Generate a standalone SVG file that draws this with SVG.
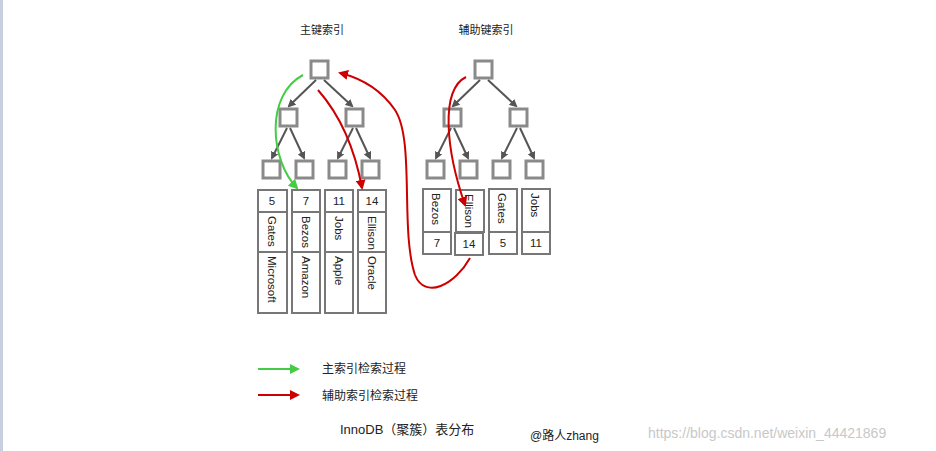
<svg xmlns="http://www.w3.org/2000/svg" width="936" height="451" viewBox="0 0 936 451">
<style>
text{font-family:"Liberation Sans","Noto Sans CJK SC",sans-serif;fill:#222}
.n rect{fill:#fff;stroke:#8a8a8a;stroke-width:3}
.c rect{fill:#fff;stroke:#777;stroke-width:2}
.t{stroke:#555;stroke-width:2;fill:none;marker-end:url(#ag)}
.c text{font-size:11.5px}
</style>
<defs>
<marker id="ag" markerWidth="8" markerHeight="8" refX="6" refY="4" orient="auto" markerUnits="userSpaceOnUse"><path d="M0,0L8,4L0,8z" fill="#555"/></marker>
<marker id="agr" markerWidth="10" markerHeight="10" refX="8" refY="5" orient="auto" markerUnits="userSpaceOnUse"><path d="M0,0L10,5L0,10z" fill="#c00"/></marker>
<marker id="agg" markerWidth="10" markerHeight="10" refX="8" refY="5" orient="auto" markerUnits="userSpaceOnUse"><path d="M0,0L10,5L0,10z" fill="#4c4"/></marker>
</defs>
<rect width="936" height="451" fill="#fff"/>
<rect x="0" y="0" width="3" height="451" fill="#c8d0e0"/>
<text x="322" y="34" font-size="11" text-anchor="middle">主键索引</text>
<text x="486" y="34" font-size="11" text-anchor="middle">辅助键索引</text>
<g id="nodes-primary" class="n">
<rect x="311" y="61" width="17" height="17"/>
<rect x="280" y="109" width="17" height="17"/><rect x="346" y="109" width="17" height="17"/>
<rect x="263" y="161" width="17" height="17"/><rect x="296" y="161" width="17" height="17"/><rect x="329" y="161" width="17" height="17"/><rect x="362" y="161" width="17" height="17"/>
</g>
<g id="nodes-secondary" class="n">
<rect x="475" y="61" width="17" height="17"/>
<rect x="444" y="109" width="17" height="17"/><rect x="510" y="109" width="17" height="17"/>
<rect x="427" y="161" width="17" height="17"/><rect x="460" y="161" width="17" height="17"/><rect x="493" y="161" width="17" height="17"/><rect x="526" y="161" width="17" height="17"/>
</g>
<g id="rows-primary" class="c">
<rect x="258" y="190" width="29" height="22"/><rect x="258" y="212" width="29" height="40"/><rect x="258" y="252" width="29" height="61"/>
<rect x="292" y="190" width="28" height="22"/><rect x="292" y="212" width="28" height="40"/><rect x="292" y="252" width="28" height="61"/>
<rect x="325" y="190" width="28" height="22"/><rect x="325" y="212" width="28" height="40"/><rect x="325" y="252" width="28" height="61"/>
<rect x="358" y="190" width="28" height="22"/><rect x="358" y="212" width="28" height="40"/><rect x="358" y="252" width="28" height="61"/>
<text x="272" y="205" text-anchor="middle">5</text><text x="306" y="205" text-anchor="middle">7</text><text x="339" y="205" text-anchor="middle">11</text><text x="372" y="205" text-anchor="middle">14</text>
<text transform="translate(268,216) rotate(90)">Gates</text><text transform="translate(302,216) rotate(90)">Bezos</text><text transform="translate(335,216) rotate(90)">Jobs</text><text transform="translate(368,216) rotate(90)">Ellison</text>
<text transform="translate(268,256) rotate(90)">Microsoft</text><text transform="translate(302,256) rotate(90)">Amazon</text><text transform="translate(335,256) rotate(90)">Apple</text><text transform="translate(368,256) rotate(90)">Oracle</text>
</g>
<g id="rows-secondary" class="c">
<rect x="423" y="189" width="28" height="43"/><rect x="423" y="232" width="28" height="22"/>
<rect x="456" y="190" width="28" height="42"/><rect x="455" y="233" width="28" height="22"/>
<rect x="489" y="189" width="28" height="43"/><rect x="489" y="232" width="28" height="22"/>
<rect x="522" y="189" width="28" height="43"/><rect x="522" y="232" width="28" height="22"/>
<text transform="translate(432,193) rotate(90)">Bezos</text><text transform="translate(465,194) rotate(90)">Ellison</text><text transform="translate(498,193) rotate(90)">Gates</text><text transform="translate(531,193) rotate(90)">Jobs</text>
<text x="437" y="247" text-anchor="middle">7</text><text x="469" y="248" text-anchor="middle">14</text><text x="503" y="247" text-anchor="middle">5</text><text x="536" y="247" text-anchor="middle">11</text>
</g>
<g id="connectors">
<path class="t" d="M316,80L289,106"/><path class="t" d="M324,80L352,106"/>
<path class="t" d="M287,128L272,158"/><path class="t" d="M290,128L304,158"/>
<path class="t" d="M353,128L338,158"/><path class="t" d="M356,128L370,158"/>
<path class="t" d="M480,80L453,106"/><path class="t" d="M488,80L516,106"/>
<path class="t" d="M451,128L436,158"/><path class="t" d="M454,128L468,158"/>
<path class="t" d="M517,128L502,158"/><path class="t" d="M520,128L534,158"/>
<path d="M303,75C265,95 270,160 297,188" fill="none" stroke="#4c4" stroke-width="2" marker-end="url(#agg)"/>
<path d="M318,90C340,115 355,150 362,188" fill="none" stroke="#c00" stroke-width="2" marker-end="url(#agr)"/>
<path d="M470,258C455,285 425,300 415,275C400,230 415,140 395,110C380,88 360,78 340,73" fill="none" stroke="#c00" stroke-width="2" marker-end="url(#agr)"/>
<path d="M466,77C440,90 446,150 465,205" fill="none" stroke="#c00" stroke-width="2" marker-end="url(#agr)"/>
</g>
<g id="legend">
<path d="M258,369H298" stroke="#4c4" stroke-width="2" marker-end="url(#agg)"/>
<text x="322" y="373" font-size="12">主索引检索过程</text>
<path d="M258,395H298" stroke="#c00" stroke-width="2" marker-end="url(#agr)"/>
<text x="322" y="400" font-size="12">辅助索引检索过程</text>
</g>
<text x="340" y="434" font-size="13">InnoDB（聚簇）表分布</text>
<text x="530" y="440" font-size="12">@路人zhang</text>
<text x="648" y="438" font-size="14" style="fill:#c8c8c8">https://blog.csdn.net/weixin_44421869</text>
</svg>
